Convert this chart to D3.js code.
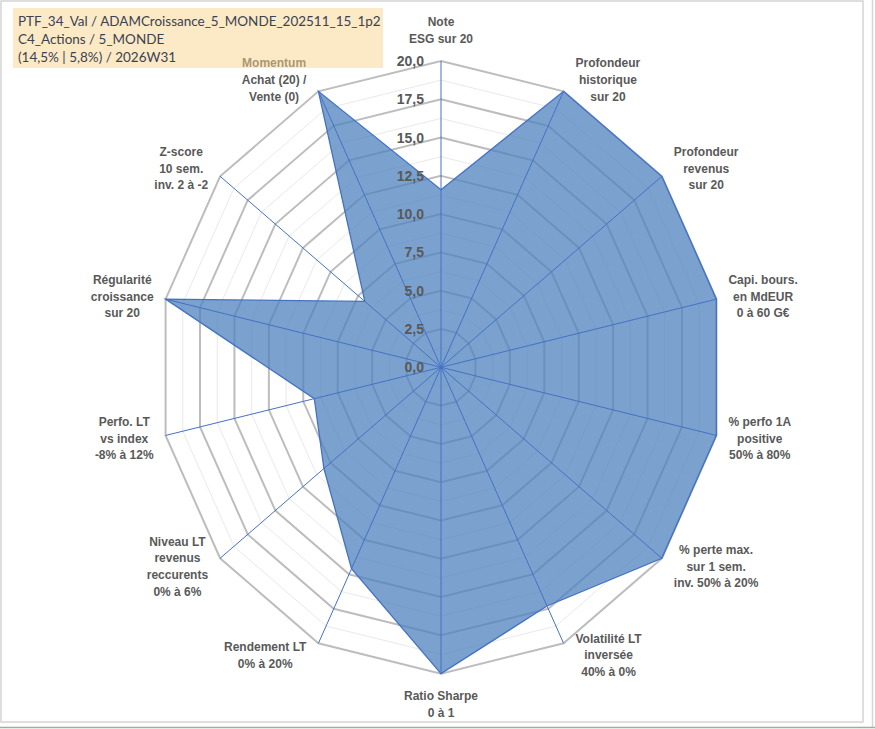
<!DOCTYPE html>
<html lang="fr">
<head>
<meta charset="UTF-8">
<title>Radar PTF_34_Val</title>
<style>
  body { margin: 0; background: #fff; }
  svg { display: block; }
</style>
</head>
<body>
<script src="https://d3js.org/d3.v7.min.js"></script>
<script>
    // axis labels, clockwise from the top
    let axisLabels = [
        ["Note", "ESG sur 20"],
        ["Profondeur", "historique", "sur 20"],
        ["Profondeur", "revenus", "sur 20"],
        ["Capi. bours.", "en MdEUR", "0 à 60 G€"],
        ["% perfo 1A", "positive", "50% à 80%"],
        ["% perte max.", "sur 1 sem.", "inv. 50% à 20%"],
        ["Volatilité LT", "inversée", "40% à 0%"],
        ["Ratio Sharpe", "0 à 1"],
        ["Rendement LT", "0% à 20%"],
        ["Niveau LT", "revenus", "reccurents", "0% à 6%"],
        ["Perfo. LT", "vs index", "-8% à 12%"],
        ["Régularité", "croissance", "sur 20"],
        ["Z-score", "10 sem.", "inv. 2 à -2"],
        ["Momentum", "Achat (20) /", "Vente (0)"]
    ];
    let scores = [11.6, 20, 20, 20, 20, 20, 17.3, 20, 14.6, 10.6, 9.2, 20, 6.9, 20];
    let majorTicks = [0, 2.5, 5, 7.5, 10, 12.5, 15, 17.5, 20];
    let minorTicks = [1.25, 3.75, 6.25, 8.75, 11.25, 13.75, 16.25, 18.75];
    let titleLines = [
        "PTF_34_Val / ADAMCroissance_5_MONDE_202511_15_1p2",
        "C4_Actions / 5_MONDE",
        "(14,5% | 5,8%) / 2026W31"
    ];

    let width = 875, height = 729;
    let cx = 441, cy = 367.3;
    let n = axisLabels.length;

    let svg = d3.select('body')
        .append('svg')
        .attr('width', width)
        .attr('height', height);

    // frame
    svg.append('rect').attr('x', 1).attr('y', 1).attr('width', 862).attr('height', 721)
        .attr('fill', '#fff').attr('stroke', '#d4d4d4').attr('stroke-width', 1.5);
    svg.append('line').attr('x1', 872.5).attr('x2', 872.5).attr('y1', 0).attr('y2', 728)
        .attr('stroke', '#d6d6d6').attr('stroke-width', 1.5);
    svg.append('line').attr('x1', 0).attr('x2', 875).attr('y1', 727.5).attr('y2', 727.5)
        .attr('stroke', '#98b496').attr('stroke-width', 1.5);

    // the plot is a bit narrower than tall, so two radial scales
    let rx = d3.scaleLinear().domain([0, 20]).range([0, 282.5]);
    let ry = d3.scaleLinear().domain([0, 20]).range([0, 306.3]);
    let angle = d3.scaleLinear().domain([0, n]).range([0, 2 * Math.PI]);

    function pt(i, v) {
        let a = angle(i);
        return [cx + rx(v) * Math.sin(a), cy - ry(v) * Math.cos(a)];
    }
    function ring(v) {
        return d3.range(n).map(function(i) { return pt(i, v); });
    }
    let closed = d3.line().curve(d3.curveLinearClosed);

    // gridlines
    svg.append('g').selectAll('path')
        .data(minorTicks)
        .enter()
        .append('path')
        .attr('d', function(d) { return closed(ring(d)); })
        .attr('fill', 'none')
        .attr('stroke', '#e9e9e9')
        .attr('stroke-width', 1);

    svg.append('g').selectAll('path')
        .data(majorTicks.filter(function(d) { return d > 0; }))
        .enter()
        .append('path')
        .attr('d', function(d) { return closed(ring(d)); })
        .attr('fill', 'none')
        .attr('stroke', '#bdbdbd')
        .attr('stroke-width', 2);

    // the series
    let shape = scores.map(function(v, i) { return pt(i, v); });
    svg.append('path')
        .attr('d', closed(shape))
        .attr('fill', '#4f81bd')
        .attr('fill-opacity', 0.75)
        .attr('stroke', 'none');

    // radial axes
    svg.append('g').selectAll('line')
        .data(d3.range(n))
        .enter()
        .append('line')
        .attr('x1', cx).attr('y1', cy)
        .attr('x2', function(i) { return pt(i, 20)[0]; })
        .attr('y2', function(i) { return pt(i, 20)[1]; })
        .attr('stroke', '#4472c4')
        .attr('stroke-width', 1);

    svg.append('path')
        .attr('d', closed(shape))
        .attr('fill', 'none')
        .attr('stroke', '#4472c4')
        .attr('stroke-width', 1.3)
        .attr('stroke-linejoin', 'miter');

    // value ticks
    let fmt = function(v) { return d3.format('.1f')(v).replace('.', ','); };
    svg.append('g').selectAll('text')
        .data(majorTicks)
        .enter()
        .append('text')
        .attr('x', 424)
        .attr('y', function(d) { return cy - ry(d) + 5; })
        .attr('text-anchor', 'end')
        .attr('font-family', '"Liberation Sans", Arial, sans-serif')
        .attr('font-weight', 'bold')
        .attr('font-size', '14px')
        .attr('fill', '#595959')
        .text(fmt);

    // category labels
    let lineH = 16.7, gap = 12;
    axisLabels.forEach(function(lines, i) {
        let a = angle(i), s = Math.sin(a), c = Math.cos(a);
        let p = pt(i, 20);
        let t = svg.append('text')
            .attr('font-family', '"Liberation Sans", Arial, sans-serif')
            .attr('font-weight', 'bold')
            .attr('font-size', '12px')
            .attr('fill', '#595959')
            .attr('text-anchor', 'middle');
        let spans = lines.map(function(l) { return t.append('tspan').text(l); });
        let w = d3.max(spans, function(sp) { return sp.node().getComputedTextLength(); });
        let h = lines.length * lineH;
        let mx, my;
        if (Math.abs(s) < 0.1) {
            mx = p[0];
            my = p[1] - c * (14 + h / 2);
        } else {
            mx = p[0] + Math.sign(s) * (gap + w / 2);
            my = p[1] - 13 * c;
        }
        spans.forEach(function(sp, k) {
            sp.attr('x', mx).attr('y', my - h / 2 + lineH * k + lineH / 2 + 4.3);
        });
    });

    // title box (semi transparent, it covers the top of one label)
    svg.append('rect')
        .attr('x', 13).attr('y', 8).attr('width', 370).attr('height', 60)
        .attr('fill', '#f9d38d')
        .attr('fill-opacity', 0.5);

    let title = svg.append('text')
        .attr('font-family', 'Lato, "Liberation Sans", sans-serif')
        .attr('font-size', '15px')
        .attr('fill', '#3b4252');
    titleLines.forEach(function(l, k) {
        title.append('tspan').attr('x', 18).attr('y', 26 + 18 * k).text(l);
    });
    // fit the first line to the box like the original
    let firstLen = title.select('tspan').node().getComputedTextLength();
    title.attr('font-size', (15 * 363 / firstLen) + 'px');
</script>
</body>
</html>
